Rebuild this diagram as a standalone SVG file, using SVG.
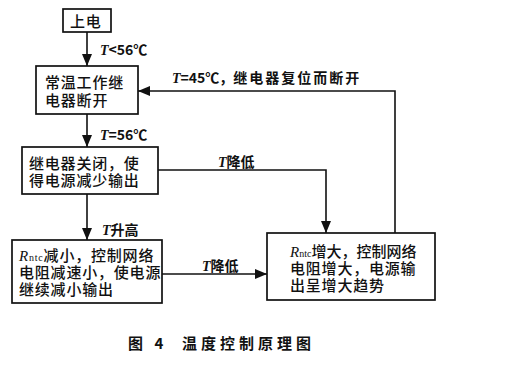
<svg xmlns="http://www.w3.org/2000/svg" width="511" height="366" viewBox="0 0 511 366">
<defs>
<marker id="ah" viewBox="0 0 12 10" refX="12" refY="5" markerWidth="12" markerHeight="10" markerUnits="userSpaceOnUse" orient="auto">
<path d="M0,0 L12,5 L0,10 Z" fill="#111"/>
</marker>
<style>
.box{fill:#fff;stroke:#111;stroke-width:1.7}
.ln{fill:none;stroke:#111;stroke-width:1.6}
.t{font-family:"Noto Sans CJK SC","Liberation Sans",sans-serif;font-size:15px;font-weight:500;fill:#111;letter-spacing:0.8px}
.lb{font-family:"Noto Sans CJK SC","Liberation Sans",sans-serif;font-size:14px;font-weight:bold;fill:#111}
.it{font-family:"Liberation Serif",serif;font-style:italic}
.cap{font-family:"Noto Sans CJK SC","Liberation Sans",sans-serif;font-size:15px;font-weight:bold;fill:#111;letter-spacing:4px}
</style>
</defs>
<rect width="511" height="366" fill="#fff"/>
<g id="connectors">
<path class="ln" d="M87,32 V66" marker-end="url(#ah)"/>
<path class="ln" d="M87,114 V147" marker-end="url(#ah)"/>
<path class="ln" d="M87,194 V240" marker-end="url(#ah)"/>
<path class="ln" d="M158,170 H326 V233" marker-end="url(#ah)"/>
<path class="ln" d="M162,274 H267" marker-end="url(#ah)"/>
<path class="ln" d="M395,233 V91 H138" marker-end="url(#ah)"/>
<text class="lb" x="100" y="55"><tspan class="it">T</tspan>&lt;56℃</text>
<text class="lb" x="100" y="140"><tspan class="it">T</tspan>=56℃</text>
<text class="lb" x="102" y="235"><tspan class="it">T</tspan>升高</text>
<text class="lb" x="218" y="167"><tspan class="it">T</tspan>降低</text>
<text class="lb" x="202" y="271"><tspan class="it">T</tspan>降低</text>
<text class="lb" x="172" y="83"><tspan class="it">T</tspan>=45℃，<tspan letter-spacing="2">继电器复位而断开</tspan></text>
</g>
<g id="n1">
<rect class="box" x="63" y="9" width="48" height="23"/>
<text class="t" x="70" y="27" font-size="16">上电</text>
</g>
<g id="n2">
<rect class="box" x="36" y="66" width="102" height="48"/>
<text class="t"><tspan x="45" y="88">常温工作继</tspan><tspan x="45" y="106">电器断开</tspan></text>
</g>
<g id="n3">
<rect class="box" x="22" y="147" width="136" height="47"/>
<text class="t"><tspan x="29" y="169">继电器关闭，使</tspan><tspan x="29" y="186">得电源减少输出</tspan></text>
</g>
<g id="n4">
<rect class="box" x="12" y="240" width="150" height="63"/>
<text class="t" letter-spacing="0"><tspan x="19" y="261" class="it">R</tspan><tspan font-family="Liberation Serif" font-size="10">ntc</tspan><tspan>减小，控制网络</tspan><tspan x="19" y="278">电阻减速小，使电源</tspan><tspan x="19" y="295">继续减小输出</tspan></text>
</g>
<g id="n5">
<rect class="box" x="267" y="233" width="168" height="67"/>
<text class="t"><tspan x="290" y="257" class="it" letter-spacing="0">R</tspan><tspan font-family="Liberation Serif" font-size="10" letter-spacing="0">ntc</tspan><tspan letter-spacing="0">增大，控制网络</tspan><tspan x="290" y="274">电阻增大，电源输</tspan><tspan x="290" y="291">出呈增大趋势</tspan></text>
</g>
<text class="cap" x="128" y="349">图 4</text>
<text class="cap" x="182" y="349">温度控制原理图</text>
</svg>
